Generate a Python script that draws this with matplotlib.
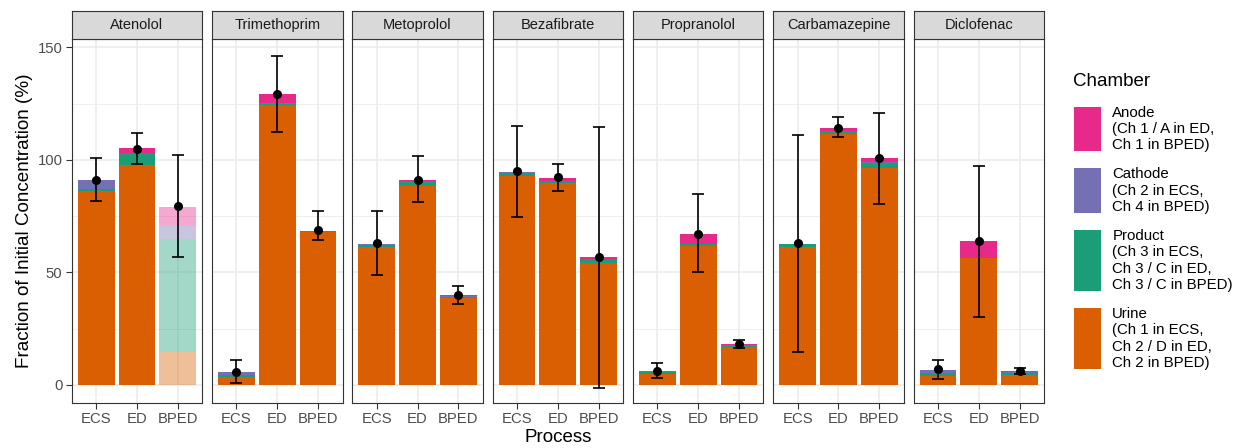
import numpy as np
import matplotlib.pyplot as plt
from matplotlib.colors import to_rgba
from matplotlib.patches import Rectangle

plt.rcParams['font.family'] = ['Liberation Sans', 'DejaVu Sans']

drugs = ["Atenolol", "Trimethoprim", "Metoprolol", "Bezafibrate",
         "Propranolol", "Carbamazepine", "Diclofenac"]
processes = ["ECS", "ED", "BPED"]

# fraction of initial concentration (%) found in each chamber
# one row per drug, columns ECS / ED / BPED
urine = [
    [86.3, 97.7, 14.5],
    [3.7, 124.2, 68.0],
    [61.3, 88.4, 38.8],
    [92.8, 89.9, 54.2],
    [4.9, 61.9, 16.9],
    [61.2, 111.4, 96.5],
    [4.1, 56.3, 4.4],
]
product = [
    [0.7, 5.2, 50.4],
    [0.6, 0.8, 0.3],
    [0.7, 2.0, 0.4],
    [1.2, 0.8, 1.2],
    [1.0, 0.6, 0.6],
    [1.3, 1.3, 2.2],
    [1.2, 0.3, 0.9],
]
cathode = [
    [4.1, 0.0, 5.9],
    [1.6, 0.3, 0.2],
    [0.8, 0.2, 0.3],
    [0.8, 0.0, 0.3],
    [0.2, 0.3, 0.4],
    [0.3, 0.3, 0.3],
    [1.4, 0.0, 0.3],
]
anode = [
    [0.0, 2.2, 8.4],
    [0.0, 3.8, 0.0],
    [0.0, 0.5, 0.3],
    [0.0, 1.3, 1.0],
    [0.0, 4.4, 0.5],
    [0.0, 1.3, 1.7],
    [0.0, 7.2, 0.5],
]

# mass balance mean with lower / upper error limits
mean = [
    [91.1, 104.7, 79.4],
    [5.9, 129.1, 68.7],
    [63.0, 91.1, 39.8],
    [95.0, 92.2, 56.7],
    [6.2, 67.2, 18.4],
    [63.0, 114.3, 100.7],
    [6.9, 63.8, 6.2],
]
err_lo = [
    [81.6, 98.0, 56.9],
    [1.0, 112.3, 64.4],
    [48.7, 81.2, 35.8],
    [74.6, 86.0, -1.2],
    [3.0, 50.1, 16.3],
    [14.7, 110.0, 80.5],
    [2.5, 30.3, 4.9],
]
err_hi = [
    [101.0, 112.0, 102.0],
    [11.1, 146.2, 77.3],
    [77.3, 101.6, 44.1],
    [115.1, 98.3, 114.6],
    [9.6, 84.7, 20.1],
    [111.2, 118.9, 120.8],
    [11.1, 97.3, 7.6],
]

# bars shown faded (drug, process)
faded = [("Atenolol", "BPED")]

chambers = ["Anode", "Cathode", "Product", "Urine"]
chamber_labels = [
    "Anode\n(Ch 1 / A in ED,\nCh 1 in BPED)",
    "Cathode\n(Ch 2 in ECS,\nCh 4 in BPED)",
    "Product\n(Ch 3 in ECS,\nCh 3 / C in ED,\nCh 3 / C in BPED)",
    "Urine\n(Ch 1 in ECS,\nCh 2 / D in ED,\nCh 2 in BPED)",
]
colors = {"Anode": "#E7298A", "Cathode": "#7570B3",
          "Product": "#1B9E77", "Urine": "#D95F02"}
stack = [("Urine", urine), ("Product", product),
         ("Cathode", cathode), ("Anode", anode)]

W, H = 1238, 448
fig = plt.figure(figsize=(W / 100, H / 100), dpi=100)

left0, pitch, pw = 71.7, 140.3, 130.5
ptop, pbot, strip_h = 39, 403, 28
x = np.arange(1, len(processes) + 1)

for i, drug in enumerate(drugs):
    ax = fig.add_axes([(left0 + i * pitch) / W, (H - pbot) / H,
                       pw / W, (pbot - ptop) / H])
    alphas = [0.4 if (drug, p) in faded else 1.0 for p in processes]

    base = np.zeros(len(processes))
    for name, vals in stack:
        v = np.array(vals[i])
        cols = [to_rgba(colors[name], a) for a in alphas]
        ax.bar(x, v, 0.9, bottom=base, color=cols, linewidth=0, zorder=2)
        base += v

    m = np.array(mean[i])
    lo = np.array(err_lo[i])
    hi = np.array(err_hi[i])
    ax.errorbar(x, m, yerr=[m - lo, hi - m], fmt='none', ecolor='black',
                elinewidth=1.2, capsize=4, capthick=1.2, zorder=3)
    ax.plot(x, m, 'o', color='black', ms=5.5, zorder=4)

    ax.set_xlim(0.4, 3.6)
    ax.set_ylim(-8, 153.7)
    ax.set_xticks(x)
    ax.set_xticklabels(processes)
    ax.set_yticks([0, 50, 100, 150])
    ax.set_yticks([25, 75, 125], minor=True)
    ax.grid(True, which='major', color='#EBEBEB', lw=1.1, zorder=0)
    ax.grid(True, which='minor', axis='y', color='#EBEBEB', lw=0.6, zorder=0)
    ax.set_axisbelow(True)
    ax.tick_params(axis='both', which='major', length=4.5, width=0.8,
                   color='#333333', labelcolor='#4D4D4D', labelsize=10.7,
                   pad=2.2)
    ax.tick_params(axis='y', which='minor', length=0)
    if i > 0:
        ax.tick_params(axis='y', which='both', left=False, labelleft=False)
    for s in ax.spines.values():
        s.set_color('#333333')
        s.set_linewidth(0.8)

    # facet strip
    sax = fig.add_axes([(left0 + i * pitch) / W, (H - ptop) / H,
                        pw / W, strip_h / H])
    sax.set_facecolor('#D9D9D9')
    sax.set_xticks([])
    sax.set_yticks([])
    for s in sax.spines.values():
        s.set_color('#333333')
        s.set_linewidth(0.8)
    sax.text(0.5, 0.5, drug, ha='center', va='center', fontsize=10.5,
             color='#1A1A1A', transform=sax.transAxes)

fig.text(25 / W, 1 - 221 / H, "Fraction of Initial Concentration (%)",
         rotation=90, ha='center', va='center', fontsize=13.6)
fig.text(557.7 / W, 1 - 437 / H, "Process", ha='center', va='center',
         fontsize=13.5)

# legend drawn by hand so key height follows the label lines
fig.text(1072.7 / W, 1 - 81.7 / H, "Chamber", ha='left', va='center',
         fontsize=13.5)
key_x0, key_w, text_x = 1074, 27, 1112.3
line_h = 16.3
key_top = 106.7
for name, label in zip(chambers, chamber_labels):
    lines = label.split("\n")
    kh = len(lines) * line_h - 4.5
    fig.add_artist(Rectangle((key_x0 / W, 1 - (key_top + kh) / H),
                             key_w / W, kh / H, transform=fig.transFigure,
                             facecolor=colors[name], edgecolor='none'))
    for j, ln in enumerate(lines):
        yc = key_top + 6.0 + j * line_h
        fig.text(text_x / W, 1 - yc / H, ln, ha='left', va='center',
                 fontsize=10.8, color='black')
    key_top += kh + 17.3

fig.savefig("out.png", dpi=100)
